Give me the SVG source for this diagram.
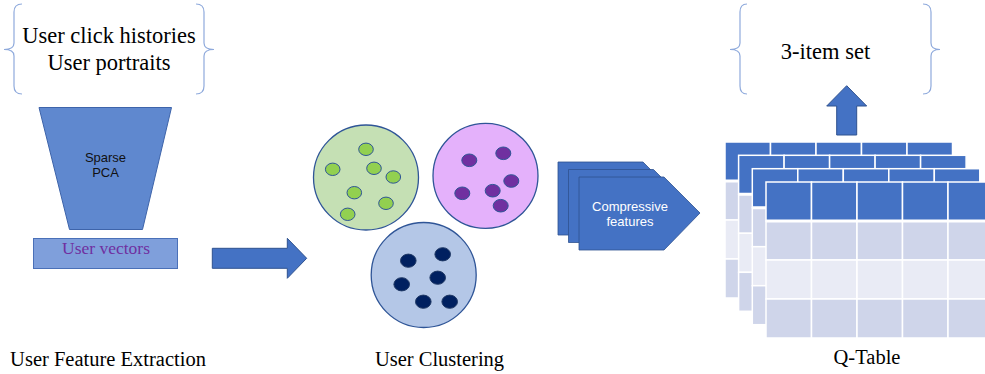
<svg xmlns="http://www.w3.org/2000/svg" xmlns:xlink="http://www.w3.org/1999/xlink" width="985" height="374" viewBox="0 0 985 374">
<style>
.serif{font-family:"Liberation Serif","Times New Roman",serif;fill:#000}
.sans{font-family:"Liberation Sans",Arial,sans-serif}
.brace{fill:none;stroke:#8FAADC;stroke-width:1.2}
.blk{fill:#4472C4;stroke:#2F528F;stroke-width:1}
.circ{stroke:#2F5597;stroke-width:1.3}
.gdot{fill:#92D050;stroke:#2F5597;stroke-width:1}
.pdot{fill:#7030A0;stroke:#2F5597;stroke-width:1}
.ndot{fill:#002060;stroke:#1F3864;stroke-width:1}
.hd{fill:#4472C4;stroke:#fff;stroke-width:1.5}
.r1{fill:#CFD5EA;stroke:#fff;stroke-width:1.5}
.r2{fill:#E9EBF5;stroke:#fff;stroke-width:1.5}
.pent{fill:#4472C4;stroke:#2F528F;stroke-width:0.8}
</style>
<defs>
<g id="qtable">
<rect class="hd" x="0" y="0" width="45.5" height="39"/>
<rect class="hd" x="45.5" y="0" width="45.5" height="39"/>
<rect class="hd" x="91" y="0" width="45.5" height="39"/>
<rect class="hd" x="136.5" y="0" width="45.5" height="39"/>
<rect class="hd" x="182" y="0" width="45.5" height="39"/>
<rect class="r1" x="0" y="39" width="45.5" height="39"/>
<rect class="r1" x="45.5" y="39" width="45.5" height="39"/>
<rect class="r1" x="91" y="39" width="45.5" height="39"/>
<rect class="r1" x="136.5" y="39" width="45.5" height="39"/>
<rect class="r1" x="182" y="39" width="45.5" height="39"/>
<rect class="r2" x="0" y="78" width="45.5" height="39"/>
<rect class="r2" x="45.5" y="78" width="45.5" height="39"/>
<rect class="r2" x="91" y="78" width="45.5" height="39"/>
<rect class="r2" x="136.5" y="78" width="45.5" height="39"/>
<rect class="r2" x="182" y="78" width="45.5" height="39"/>
<rect class="r1" x="0" y="117" width="45.5" height="39"/>
<rect class="r1" x="45.5" y="117" width="45.5" height="39"/>
<rect class="r1" x="91" y="117" width="45.5" height="39"/>
<rect class="r1" x="136.5" y="117" width="45.5" height="39"/>
<rect class="r1" x="182" y="117" width="45.5" height="39"/>
<line x1="0" y1="39" x2="227.5" y2="39" stroke="#fff" stroke-width="3"/>
</g>
</defs>
<rect width="985" height="374" fill="#fff"/>

<g id="input-brace">
<path class="brace" d="M22,4 Q14,4 14,12 L14,43 Q14,49.5 4,49.5 Q14,49.5 14,56 L14,86 Q14,94 22,94"/>
<path class="brace" d="M196,4 Q204,4 204,12 L204,43 Q204,49.5 214,49.5 Q204,49.5 204,56 L204,86 Q204,94 196,94"/>
<text class="serif" font-size="22.5" text-anchor="middle"><tspan x="109" y="43">User click histories</tspan><tspan x="109" y="70">User portraits</tspan></text>
</g>

<g id="sparse-pca">
<polygon points="39,107.5 171.5,107.5 142.5,229.5 69.5,229.5" fill="#5F88CF" stroke="#3E64AA" stroke-width="1"/>
<text class="sans" font-size="13" text-anchor="middle" fill="#111"><tspan x="105.5" y="162">Sparse</tspan><tspan x="105.5" y="177">PCA</tspan></text>
</g>

<g id="user-vectors">
<rect x="33.5" y="238.5" width="144" height="30" fill="#7F9FDB" stroke="#4A70B8" stroke-width="1"/>
<text class="serif" x="106" y="254" font-size="17.5" text-anchor="middle" style="fill:#7030A0">User vectors</text>
</g>

<g id="clusters">
<circle class="circ" cx="366" cy="177.5" r="52.5" fill="#C5E0B4"/>
<ellipse class="gdot" cx="366" cy="149.3" rx="7.3" ry="6.2"/>
<ellipse class="gdot" cx="332.7" cy="169.3" rx="7.3" ry="6.2"/>
<ellipse class="gdot" cx="374" cy="168.3" rx="7.3" ry="6.2"/>
<ellipse class="gdot" cx="393.3" cy="177" rx="7.3" ry="6.2"/>
<ellipse class="gdot" cx="354.3" cy="192.7" rx="7.3" ry="6.2"/>
<ellipse class="gdot" cx="386" cy="203.3" rx="7.3" ry="6.2"/>
<ellipse class="gdot" cx="347.7" cy="214.3" rx="7.3" ry="6.2"/>

<circle class="circ" cx="485.5" cy="175.8" r="52.5" fill="#E4B1FB"/>
<ellipse class="pdot" cx="469.3" cy="160.3" rx="7.5" ry="6.3"/>
<ellipse class="pdot" cx="503.3" cy="153.3" rx="7.5" ry="6.3"/>
<ellipse class="pdot" cx="511.3" cy="181" rx="7.5" ry="6.3"/>
<ellipse class="pdot" cx="492.7" cy="190.7" rx="7.5" ry="6.3"/>
<ellipse class="pdot" cx="462.3" cy="193.3" rx="7.5" ry="6.3"/>
<ellipse class="pdot" cx="500.7" cy="205.7" rx="7.5" ry="6.3"/>

<circle class="circ" cx="423.7" cy="275" r="52.5" fill="#B4C7E7"/>
<ellipse class="ndot" cx="408.3" cy="260.7" rx="7.8" ry="6.6"/>
<ellipse class="ndot" cx="442.7" cy="254.3" rx="7.8" ry="6.6"/>
<ellipse class="ndot" cx="437.7" cy="277.7" rx="7.8" ry="6.6"/>
<ellipse class="ndot" cx="401.7" cy="284.3" rx="7.8" ry="6.6"/>
<ellipse class="ndot" cx="423.3" cy="301.7" rx="7.8" ry="6.6"/>
<ellipse class="ndot" cx="449.7" cy="301.7" rx="7.8" ry="6.6"/>
</g>

<g id="compressive-features">
<polygon class="pent" points="558,162 643,162 679,198 643,235 558,235"/>
<polygon class="pent" points="568.5,169.5 653.5,169.5 689.5,205.5 653.5,242.5 568.5,242.5"/>
<polygon class="pent" points="579,177 664,177 700,213 664,250 579,250"/>
<text class="sans" font-size="13" text-anchor="middle" fill="#fff"><tspan x="630" y="211">Compressive</tspan><tspan x="630" y="226">features</tspan></text>
</g>

<g id="q-table">
<use xlink:href="#qtable" href="#qtable" x="725" y="142"/>
<use xlink:href="#qtable" href="#qtable" x="738.6" y="155.3"/>
<use xlink:href="#qtable" href="#qtable" x="752.3" y="168.7"/>
<use xlink:href="#qtable" href="#qtable" x="766" y="182"/>
</g>

<g id="output-brace">
<path class="brace" d="M747,4 Q740,4 740,12 L740,43 Q740,49.5 730,49.5 Q740,49.5 740,56 L740,86 Q740,94 747,94"/>
<path class="brace" d="M923,4 Q931,4 931,12 L931,43 Q931,49.5 940,49.5 Q931,49.5 931,56 L931,86 Q931,94 923,94"/>
<text class="serif" x="825.5" y="59" font-size="22.5" text-anchor="middle">3-item set</text>
</g>

<g id="connectors">
<polygon class="blk" points="212.3,248.3 287.3,248.3 287.3,238.3 306.7,258.3 287.3,278.3 287.3,268.3 212.3,268.3"/>
<polygon class="blk" points="836.7,135 836.7,106 826.7,106 846.7,85.7 866.7,106 856.7,106 856.7,135"/>
</g>

<g id="labels">
<text class="serif" x="108" y="365.5" font-size="20.5" text-anchor="middle">User Feature Extraction</text>
<text class="serif" x="439.5" y="365.5" font-size="20.5" text-anchor="middle">User Clustering</text>
<text class="serif" x="867" y="364" font-size="20.5" text-anchor="middle">Q-Table</text>
</g>
</svg>
